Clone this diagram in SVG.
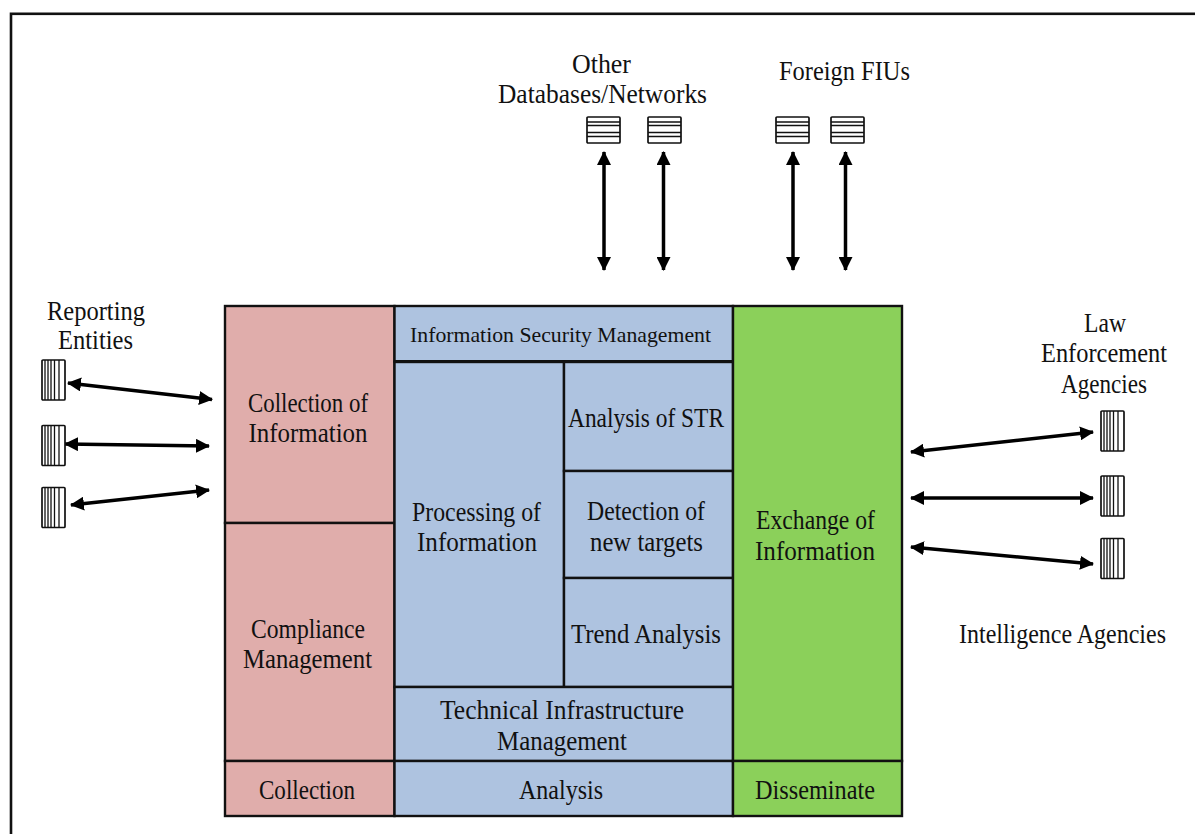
<svg xmlns="http://www.w3.org/2000/svg" width="1195" height="834" viewBox="0 0 1195 834">
<style>
text{font-family:"Liberation Serif","Times New Roman",serif;font-size:26.500px;fill:#111;text-anchor:middle}
.b{stroke:#111;stroke-width:2.400}
.pink{fill:#E0ADAB}.blue{fill:#AEC3E0}.green{fill:#8BD05A}
.ic{fill:#fff;stroke:#111;stroke-width:1.700}
.il{fill:none;stroke:#111;stroke-width:1.300}
.a{stroke:#000;stroke-width:3.500;fill:none;marker-start:url(#h);marker-end:url(#h)}
</style>
<defs>
<marker id="h" viewBox="0 0 14 14" refX="13" refY="7" markerWidth="14" markerHeight="14" markerUnits="userSpaceOnUse" orient="auto-start-reverse"><path d="M0 0L14 7L0 14Z" fill="#000"/></marker>
<g id="iv"><rect class="ic" x="0" y="0" width="23" height="40" rx="1"/><path class="il" d="M3 0V40M6 0V40M9 0V40M12.500 0V40M17 0V40"/></g>
<g id="ih"><rect class="ic" x="0" y="0" width="33" height="26" rx="1"/><path class="il" d="M0 5H33M0 8.500H33M0 15.500H33M0 19.500H33"/></g>
</defs>
<rect id="frame" x="11" y="13.800" width="1190" height="830" fill="#fff" stroke="#111" stroke-width="2.600"/>
<g id="connectors">
<path class="a" d="M604 152V270"/><path class="a" d="M663.500 152V270"/><path class="a" d="M793 152V270"/><path class="a" d="M845.500 152V270"/>
<path class="a" d="M68 383L212 399.500"/><path class="a" d="M65 444L209 446"/><path class="a" d="M71 505L209 490"/>
<path class="a" d="M911 452L1093 432"/><path class="a" d="M911 498H1093"/><path class="a" d="M911 547L1093 564"/>
</g>
<g id="n-collection-of-information"><rect class="b pink" x="225" y="306" width="169.500" height="217"/><text x="308" y="412" textLength="120" lengthAdjust="spacingAndGlyphs">Collection of</text><text x="308" y="442" textLength="119" lengthAdjust="spacingAndGlyphs">Information</text></g>
<g id="n-compliance"><rect class="b pink" x="225" y="523" width="169.500" height="238"/><text x="308" y="638" textLength="114" lengthAdjust="spacingAndGlyphs">Compliance</text><text x="307.500" y="668" textLength="129" lengthAdjust="spacingAndGlyphs">Management</text></g>
<g id="n-collection"><rect class="b pink" x="225" y="761" width="169.500" height="55"/><text x="307" y="799" textLength="96" lengthAdjust="spacingAndGlyphs">Collection</text></g>
<g id="n-security"><rect class="b blue" x="394.500" y="306" width="338.500" height="55.500"/><path d="M394.500 361.700H733" stroke="#111" stroke-width="3.400"/><text x="560.500" y="342" style="font-size:22px" textLength="301" lengthAdjust="spacingAndGlyphs">Information Security Management</text></g>
<g id="n-processing"><rect class="b blue" x="394.500" y="362" width="169.500" height="325"/><text x="476.500" y="521" textLength="129" lengthAdjust="spacingAndGlyphs">Processing of</text><text x="477" y="551" textLength="120" lengthAdjust="spacingAndGlyphs">Information</text></g>
<g id="n-str"><rect class="b blue" x="564" y="362" width="169" height="109"/><text x="646" y="427" textLength="156" lengthAdjust="spacingAndGlyphs">Analysis of STR</text></g>
<g id="n-detection"><rect class="b blue" x="564" y="471" width="169" height="107"/><text x="646" y="520" textLength="118" lengthAdjust="spacingAndGlyphs">Detection of</text><text x="646.500" y="551" textLength="113" lengthAdjust="spacingAndGlyphs">new targets</text></g>
<g id="n-trend"><rect class="b blue" x="564" y="578" width="169" height="109"/><text x="646" y="643" textLength="150" lengthAdjust="spacingAndGlyphs">Trend Analysis</text></g>
<g id="n-technical"><rect class="b blue" x="394.500" y="687" width="338.500" height="74"/><text x="562" y="719" textLength="244" lengthAdjust="spacingAndGlyphs">Technical Infrastructure</text><text x="562" y="750" textLength="130" lengthAdjust="spacingAndGlyphs">Management</text></g>
<g id="n-analysis"><rect class="b blue" x="394.500" y="761" width="338.500" height="55"/><text x="561" y="799" textLength="84" lengthAdjust="spacingAndGlyphs">Analysis</text></g>
<g id="n-exchange"><rect class="b green" x="733" y="306" width="169" height="455"/><text x="815.500" y="529" textLength="119" lengthAdjust="spacingAndGlyphs">Exchange of</text><text x="815" y="560" textLength="120" lengthAdjust="spacingAndGlyphs">Information</text></g>
<g id="n-disseminate"><rect class="b green" x="733" y="761" width="169" height="55"/><text x="815" y="799" textLength="120" lengthAdjust="spacingAndGlyphs">Disseminate</text></g>
<g id="n-reporting"><text x="96" y="320" textLength="98" lengthAdjust="spacingAndGlyphs">Reporting</text><text x="95.500" y="349" textLength="75" lengthAdjust="spacingAndGlyphs">Entities</text>
<use href="#iv" x="42" y="360"/><use href="#iv" x="42" y="425.500"/><use href="#iv" x="42" y="487.500"/></g>
<g id="n-databases"><text x="601.500" y="73" textLength="59" lengthAdjust="spacingAndGlyphs">Other</text><text x="602.500" y="103" textLength="209" lengthAdjust="spacingAndGlyphs">Databases/Networks</text>
<use href="#ih" x="587" y="117"/><use href="#ih" x="648" y="117"/></g>
<g id="n-fius"><text x="844.500" y="80" textLength="131" lengthAdjust="spacingAndGlyphs">Foreign FIUs</text>
<use href="#ih" x="776" y="117"/><use href="#ih" x="831" y="117"/></g>
<g id="n-law"><text x="1105" y="332" textLength="42" lengthAdjust="spacingAndGlyphs">Law</text><text x="1104" y="362" textLength="126" lengthAdjust="spacingAndGlyphs">Enforcement</text><text x="1104" y="393" textLength="86" lengthAdjust="spacingAndGlyphs">Agencies</text>
<use href="#iv" x="1101" y="411"/><use href="#iv" x="1101" y="476"/><use href="#iv" x="1101" y="538.500"/></g>
<g id="n-intel"><text x="1062.500" y="643" textLength="207" lengthAdjust="spacingAndGlyphs">Intelligence Agencies</text></g>
</svg>
